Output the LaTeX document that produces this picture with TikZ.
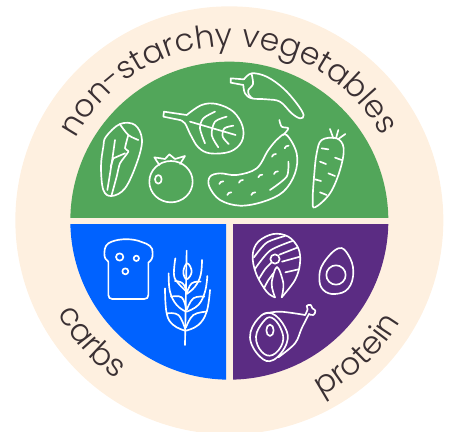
\documentclass[tikz,border=0pt]{standalone}
\usepackage{fontspec}
\setmainfont{Poppins Light}
\usetikzlibrary{decorations.text}
\definecolor{platebg}{HTML}{FEF0E0}
\definecolor{vegcol}{HTML}{52A65A}
\definecolor{carbcol}{HTML}{0062FF}
\definecolor{protcol}{HTML}{5B2C83}
\definecolor{labelcol}{HTML}{3A3033}
\newcommand{\labelfont}{\color{labelcol}\fontsize{23.5pt}{27pt}\selectfont}
\tikzset{
    icon/.style={draw=white, line width=1.25pt, line join=round, line cap=round},
    platelabel/.style={decorate, decoration={text along path, text align=center, text={|\labelfont|#1}}}
}
\begin{document}
\begin{tikzpicture}[x=0.25pt, y=-0.25pt]
    \useasboundingbox (0,0) rectangle (1353,1296);
    \fill[platebg] (688,661) circle (642);
    \begin{scope}
        \clip (200,0) rectangle (1180,651);
        \fill[vegcol] (688,662) circle (477);
    \end{scope}
    \begin{scope}
        \clip (200,672) rectangle (678,1200);
        \fill[carbcol] (688,662) circle (477);
    \end{scope}
    \begin{scope}
        \clip (699,672) rectangle (1180,1200);
        \fill[protcol] (688,662) circle (477);
    \end{scope}

    \path[platelabel={non-starchy vegetables}] (688,661) ++(194.5:522) arc[start angle=194.5, end angle=344.5, radius=522];
    \path[platelabel={carbs}] (688,661) ++(169:586) arc[start angle=169, end angle=108, radius=586];
    \path[platelabel={protein}] (688,661) ++(80:596) arc[start angle=80, end angle=13, radius=596];

    % vegetables
    \begin{scope}[shift={(210,180)}]
        % pepper
        \draw[icon] plot[smooth, tension=0.6] coordinates {(522,58) (545,40) (590,50) (640,85) (680,130) (701,165) (690,175) (665,160) (630,125) (590,118) (545,115) (525,100) (520,75)};
        \draw[icon] (522,58) -- (482,55) -- (482,68) -- (520,75);
        \draw[icon] plot[smooth] coordinates {(545,42) (549,72) (535,90) (537,105) (547,115)};
        % leaf
        \draw[icon] plot[smooth, tension=0.6] coordinates {(350,165) (395,135) (440,132) (490,155) (518,200) (515,245) (480,275) (420,280) (385,262) (362,225) (345,190) (330,180)};
        \draw[icon] (350,165) -- (282,155) -- (280,170) -- (330,180);
        \draw[icon] (360,185) -- (497,225);
        \draw[icon] plot[smooth] coordinates {(435,155) (400,175) (390,205) (405,250)};
        \draw[icon] plot[smooth] coordinates {(470,170) (435,185) (425,225) (445,262)};
        \draw[icon] plot[smooth] coordinates {(490,197) (463,205) (458,230) (476,252)};
        % cabbage
        \draw[icon] plot[smooth cycle, tension=0.6] coordinates {(108,230) (150,192) (195,195) (216,240) (200,310) (165,385) (125,408) (100,390) (93,320) (100,260)};
        \draw[icon] plot[smooth, tension=0.5] coordinates {(150,193) (175,225) (205,240)};
        \draw[icon] plot[smooth, tension=0.4] coordinates {(175,225) (165,265) (175,275) (150,310) (140,350) (125,405)};
        \draw[icon] plot[smooth] coordinates {(135,240) (125,310) (112,390)};
        \draw[icon] (165,280) -- (130,295) -- (122,320);
        % tomato
        \draw[icon] (303,365) ellipse (65 and 62);
        \draw[icon] (265,358) ellipse (10 and 13);
        \draw[icon] (268,315) -- (253,292) -- (285,297) -- (298,283) -- (315,297) -- (345,288) -- (330,312);
        % cucumber
        \draw[icon] plot[smooth cycle, tension=0.6] coordinates {(650,225) (680,280) (675,340) (640,395) (580,425) (510,437) (450,420) (418,380) (420,350) (450,340) (500,345) (560,325) (595,270) (625,235)};
        \draw[icon] plot[smooth] coordinates {(640,225) (655,205) (635,200) (628,180)};
        \draw[icon] plot[smooth] coordinates {(655,305) (650,350) (600,390)};
        \foreach \dotx/\doty in {448/372, 507/368, 565/352, 612/342, 606/290, 644/265, 472/405, 544/405} {
            \draw[icon] (\dotx,\doty) .. controls (\dotx+2,\doty-6) and (\dotx+6,\doty-8) .. (\dotx+12,\doty-8);
        }
        % carrot
        \draw[icon] plot[smooth cycle, tension=0.6] coordinates {(755,240) (800,235) (821,265) (810,330) (780,400) (735,442) (728,420) (733,340) (740,280)};
        \draw[icon] (790,235) -- (780,207);
        \draw[icon] (798,235) -- (805,210);
        \draw[icon] (805,237) -- (826,222);
        \foreach \xa/\ya/\xb/\yb in {755/265/775/268, 795/293/815/300, 750/305/768/312, 775/340/795/348, 735/358/753/363, 750/397/770/405} {
            \draw[icon] (\xa,\ya) -- (\xb,\yb);
        }
    \end{scope}

    % carbs
    \begin{scope}[shift={(210,660)}]
        % bread
        \draw[icon] (115,125) -- (115,225) .. controls (115,233) and (120,237) .. (127,237) -- (223,237) .. controls (231,237) and (235,233) .. (235,225) -- (235,128) .. controls (245,120) and (248,115) .. (248,100) .. controls (250,80) and (235,72) .. (215,66) .. controls (190,55) and (150,55) .. (125,65) .. controls (110,70) and (103,80) .. (103,100) .. controls (103,115) and (108,120) .. (115,125);
        \draw[icon] (149,111) circle (11);
        \draw[icon] (199,115) circle (8);
        \draw[icon] (166,154) circle (9);
        % wheat
        \draw[icon] (345,375) -- (350,92);
        \draw[icon] plot[smooth cycle, tension=0.7] coordinates {(352,130) (365,155) (350,178) (340,155)};
        \draw[icon] plot[smooth, tension=0.7] coordinates {(316,115) (312,165) (325,190) (350,215)};
        \draw[icon] plot[smooth, tension=0.7] coordinates {(396,120) (392,165) (375,200) (350,222)};
        \draw[icon] plot[smooth, tension=0.7] coordinates {(315,183) (338,190) (350,215)};
        \draw[icon] plot[smooth, tension=0.7] coordinates {(392,185) (365,190) (350,220)};
        \draw[icon] plot[smooth, tension=0.7] coordinates {(296,160) (300,215) (320,255) (348,275)};
        \draw[icon] plot[smooth, tension=0.7] coordinates {(412,168) (405,215) (385,255) (350,275)};
        \draw[icon] plot[smooth, tension=0.7] coordinates {(303,230) (335,232) (348,265)};
        \draw[icon] plot[smooth, tension=0.7] coordinates {(403,230) (370,235) (350,270)};
        \draw[icon] plot[smooth, tension=0.7] coordinates {(285,205) (290,280) (310,315) (345,332)};
        \draw[icon] plot[smooth, tension=0.7] coordinates {(420,210) (410,275) (385,315) (348,332)};
        \draw[icon] plot[smooth, tension=0.7] coordinates {(292,280) (325,285) (345,325)};
        \draw[icon] plot[smooth, tension=0.7] coordinates {(410,275) (370,285) (348,322)};
    \end{scope}

    % protein
    \begin{scope}[shift={(690,660)}]
        % salmon
        \draw[icon] plot[smooth, tension=0.6] coordinates {(135,232) (110,215) (78,160) (68,105) (85,65) (130,42) (175,50) (205,85) (210,130) (195,180) (155,232)};
        \draw[icon] (135,117) circle (14);
        \draw[icon] plot[smooth, tension=0.6] coordinates {(135,232) (125,190) (141,141) (160,190) (155,232)};
        \draw[icon] plot[smooth] coordinates {(72,112) (110,68) (165,48)};
        \draw[icon] plot[smooth] coordinates {(74,148) (120,92) (190,62)};
        \draw[icon] (148,104) -- (204,82);
        \draw[icon] (156,125) -- (210,110);
        \draw[icon] (166,157) -- (206,148);
        \draw[icon] plot[smooth] coordinates {(86,178) (105,148) (124,128)};
        \draw[icon] plot[smooth] coordinates {(102,205) (114,182) (130,160)};
        % egg
        \draw[icon] plot[smooth cycle, tension=0.7] coordinates {(325,85) (355,105) (370,155) (355,205) (315,222) (280,210) (268,175) (280,130)};
        \draw[icon] (318,165) circle (29);
        % ham
        \draw[icon] plot[smooth cycle, tension=0.7] coordinates {(60,352) (85,295) (125,280) (165,322) (170,370) (130,420) (90,410)};
        \draw[icon] plot[smooth cycle, tension=0.7] coordinates {(78,350) (100,305) (125,293) (152,325) (158,368) (128,405) (95,395)};
        \draw[icon] (120,331) ellipse (11 and 17);
        \draw[icon] plot[smooth, tension=0.6] coordinates {(100,282) (150,275) (225,285)};
        \draw[icon] plot[smooth, tension=0.8] coordinates {(225,285) (233,268) (230,258) (242,255) (247,265) (256,272) (250,285) (237,282)};
        \draw[icon] plot[smooth, tension=0.6] coordinates {(237,282) (215,325) (195,370) (145,412)};
    \end{scope}
\end{tikzpicture}
\end{document}
